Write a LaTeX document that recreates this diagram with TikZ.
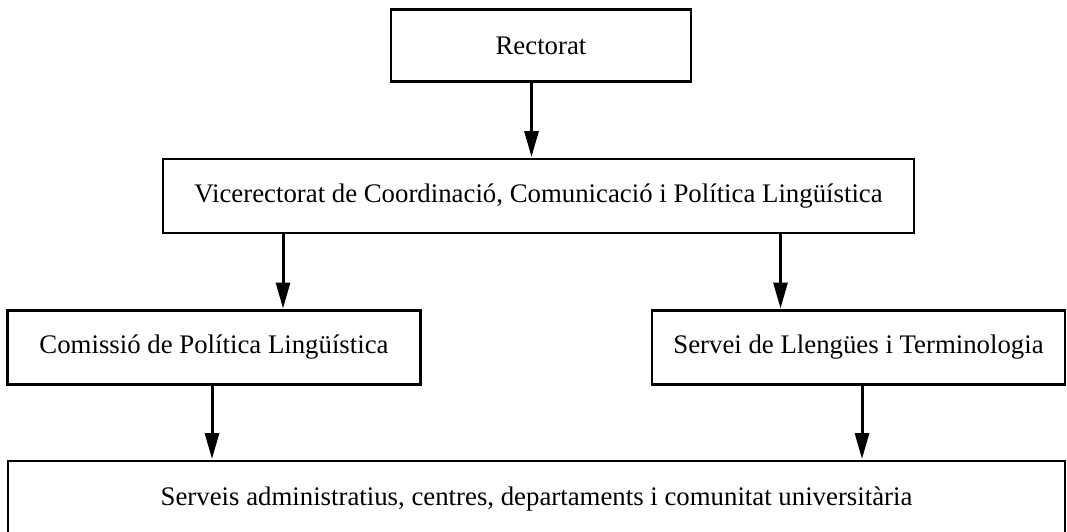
\documentclass[tikz,border=0pt]{standalone}
\usepackage{fontspec}
\setmainfont{Liberation Serif}
\usetikzlibrary{arrows.meta}
\tikzset{
  box/.style={draw=black, line width=2.6pt, inner sep=0pt, outer sep=0pt, align=center,
    font=\fontsize{26.8}{32}\selectfont},
  conn/.style={line width=3pt, -{Triangle[length=26pt,width=14pt]}, shorten >=2pt}
}
\begin{document}
\begin{tikzpicture}[x=1pt,y=-1pt]
\useasboundingbox (0,0) rectangle (1067,531);
\clip (0,0) rectangle (1067,531);
\node[box, minimum width=300pt, minimum height=72.5pt] (rect) at (541,45.5) {Rectorat};
\node[box, minimum width=751pt, minimum height=74pt] (vice) at (538.5,196) {Vicerectorat de Coordinació, Comunicació i Política Lingüística};
\node[box, minimum width=413.5pt, minimum height=74pt] (com) at (214,347.5) {Comissió de Política Lingüística};
\node[box, minimum width=413pt, minimum height=74pt] (serv) at (858.5,347.5) {Servei de Llengües i Terminologia};
\node[box, minimum width=1057pt, minimum height=77pt] (bot) at (536.5,499.5) {Serveis administratius, centres, departaments i comunitat universitària};
\draw[conn] ([xshift=-9.5pt]rect.south) -- ([xshift=-9.5pt]rect.south |- vice.north);
\draw[conn] (vice.south -| com.north) ++(69,0) coordinate (v1) -- (v1 |- com.north);
\draw[conn] (vice.south -| serv.north) ++(-78,0) coordinate (v2) -- (v2 |- serv.north);
\draw[conn] (com.south) ++(-2,0) coordinate (c1) -- (c1 |- bot.north);
\draw[conn] (serv.south) ++(3.5,0) coordinate (s1) -- (s1 |- bot.north);
\end{tikzpicture}
\end{document}
